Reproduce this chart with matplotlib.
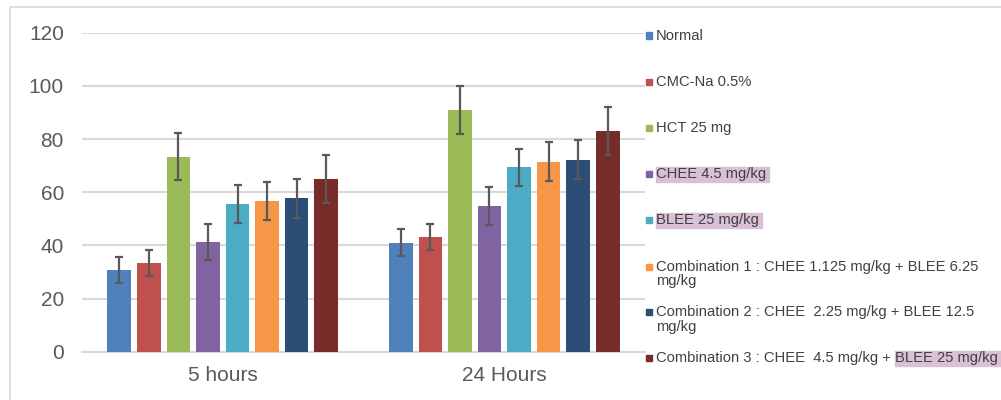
import matplotlib
matplotlib.use("Agg")
import matplotlib.pyplot as plt
import numpy as np
from matplotlib.patches import Rectangle

plt.rcParams['font.family'] = ['Liberation Sans', 'DejaVu Sans']

# Data
timePoints = ["5 hours", "24 Hours"]
groupNames = [
    "Normal",
    "CMC-Na 0.5%",
    "HCT 25 mg",
    "CHEE 4.5 mg/kg",
    "BLEE 25 mg/kg",
    "Combination 1 : CHEE 1.125 mg/kg + BLEE 6.25 mg/kg",
    "Combination 2 : CHEE  2.25 mg/kg + BLEE 12.5 mg/kg",
    "Combination 3 : CHEE  4.5 mg/kg + BLEE 25 mg/kg",
]
values5h = [30.8, 33.4, 73.4, 41.2, 55.6, 56.7, 57.7, 64.9]
errors5h = [5.0, 5.0, 8.8, 6.8, 7.0, 7.3, 7.4, 9.1]
values24h = [41.0, 43.0, 91.0, 54.8, 69.4, 71.4, 72.2, 83.0]
errors24h = [5.1, 4.9, 9.0, 7.0, 7.0, 7.3, 7.3, 9.1]
barColors = ["#4F81BD", "#C0504D", "#9BBB59", "#8064A2",
             "#4BACC6", "#F79646", "#2C4D75", "#772C2A"]
yTicks = [0, 20, 40, 60, 80, 100, 120]

# Legend text split into lines, with the parts that carry a highlight
legendLines = [
    [[("Normal", False)]],
    [[("CMC-Na 0.5%", False)]],
    [[("HCT 25 mg", False)]],
    [[("CHEE 4.5 mg/kg", True)]],
    [[("BLEE 25 mg/kg", True)]],
    [[("Combination 1 : CHEE 1.125 mg/kg + BLEE 6.25", False)], [("mg/kg", False)]],
    [[("Combination 2 : CHEE  2.25 mg/kg + BLEE 12.5", False)], [("mg/kg", False)]],
    [[("Combination 3 : CHEE  4.5 mg/kg + ", False), ("BLEE 25 mg/kg", True)]],
]

W, H = 1001, 400
fig = plt.figure(figsize=(W / 100, H / 100), dpi=100)
ax = fig.add_axes([82 / W, 1 - 351.7 / H, (645 - 82) / W, (351.7 - 32.7) / H])

# outer frame (only the top and left edges show)
fig.patches.append(Rectangle((10 / W, -0.1), 1.2, 1 - 7 / H + 0.1, transform=fig.transFigure,
                             fill=False, edgecolor="#D9D9D9", linewidth=1.2))

x = np.arange(len(timePoints))
barWidth = 0.084
pitch = 0.105
for i in range(len(groupNames)):
    offset = (i - 3.5) * pitch
    ax.bar(x + offset, [values5h[i], values24h[i]], width=barWidth, color=barColors[i],
           yerr=[errors5h[i], errors24h[i]], capsize=3,
           error_kw=dict(ecolor="#595959", elinewidth=1.6, capthick=1.6), zorder=3)

ax.set_xlim(-0.5, 1.5)
ax.set_ylim(0, 120)
ax.set_yticks(yTicks)
ax.set_xticks(x)
ax.set_xticklabels(timePoints)
ax.grid(axis="y", color="#D9D9D9", linewidth=1.5, zorder=0)
for side in ["top", "right", "left"]:
    ax.spines[side].set_visible(False)
ax.spines["bottom"].set_color("#D9D9D9")
ax.spines["bottom"].set_linewidth(1.5)
ax.tick_params(axis="both", length=0, labelcolor="#595959", labelsize=15)
ax.tick_params(axis="y", pad=13)
ax.tick_params(axis="x", pad=10)

# hand drawn legend so parts of the labels can be highlighted
firstLineY = [35.5, 82, 128, 174, 220, 266.5, 312, 358]
lineGap = 15
textX = 656
fig.canvas.draw()
renderer = fig.canvas.get_renderer()
for i, lines in enumerate(legendLines):
    yTop = firstLineY[i]
    fig.patches.append(Rectangle((646 / W, 1 - (yTop + 3) / H), 6 / W, 6 / H,
                                 transform=fig.transFigure, color=barColors[i]))
    for j, parts in enumerate(lines):
        yPix = yTop + j * lineGap
        xPix = textX
        for textPart, highlight in parts:
            t = fig.text(xPix / W, 1 - yPix / H, textPart, fontsize=10.6, color="#404040",
                         ha="left", va="center")
            bb = t.get_window_extent(renderer)
            if highlight:
                fig.patches.append(Rectangle((bb.x0 / W, 1 - (yPix + 7.5) / H),
                                             (bb.width + 3) / W, 15 / H,
                                             transform=fig.transFigure,
                                             color="#D9C0D6", zorder=-1))
            xPix += bb.width

fig.savefig("out.png", dpi=100)
